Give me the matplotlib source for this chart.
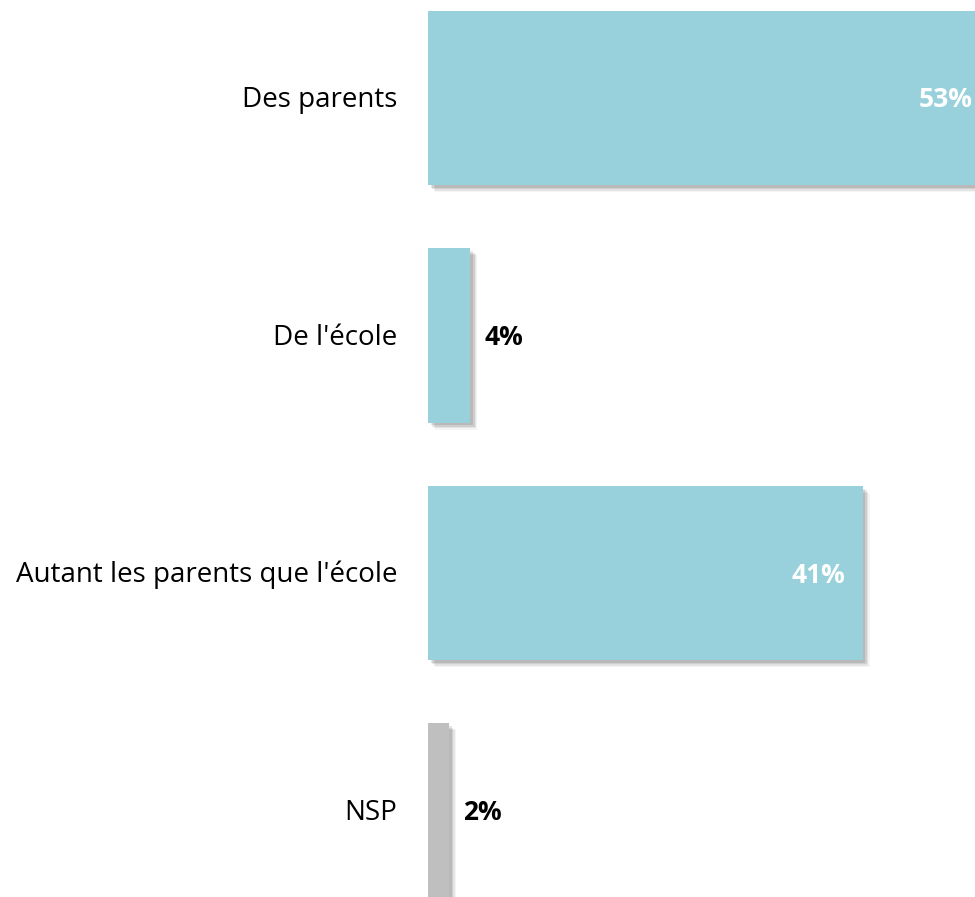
import matplotlib
matplotlib.use("Agg")
import matplotlib.pyplot as plt
from matplotlib import patheffects as pe

categories = ["Des parents", "De l'école", "Autant les parents que l'école", "NSP"]
values = [53, 4, 41, 2]
labels = ["53%", "4%", "41%", "2%"]
colors = ["#98D1DC", "#98D1DC", "#98D1DC", "#BFBFBF"]
inside = [True, False, True, False]

W, H = 975, 897
fig = plt.figure(figsize=(W / 100, H / 100), dpi=100)
ax = fig.add_axes([428 / W, 0, (W - 428) / W, 1])
ax.set_xlim(0, (W - 428) / 10.6)
ax.set_ylim(3.364, -0.4126)
ax.axis("off")

font = "Open Sans"
shadow = [pe.SimplePatchShadow(offset=(2, -2), shadow_rgbFace="#000000", alpha=0.10),
          pe.SimplePatchShadow(offset=(3, -3), shadow_rgbFace="#000000", alpha=0.09),
          pe.SimplePatchShadow(offset=(4, -4), shadow_rgbFace="#000000", alpha=0.07),
          pe.SimplePatchShadow(offset=(5, -5), shadow_rgbFace="#000000", alpha=0.04),
          pe.Normal()]

ypos = list(range(len(categories)))
bars = ax.barh(ypos, values, height=0.733, color=colors, zorder=2)
for b in bars:
    b.set_path_effects(shadow)

for y, v, lab, ins, cat in zip(ypos, values, labels, inside, categories):
    if ins:
        ax.annotate(lab, xy=(v, y), xytext=(-17, -2), textcoords="offset pixels",
                    ha="right", va="center", color="white", fontsize=19,
                    fontweight="bold", family=font, annotation_clip=False, zorder=3)
    else:
        ax.annotate(lab, xy=(v, y), xytext=(14, -2), textcoords="offset pixels",
                    ha="left", va="center", color="black", fontsize=19,
                    fontweight="bold", family=font, annotation_clip=False, zorder=3)
    ax.annotate(cat, xy=(0, y), xytext=(-31, -2), textcoords="offset pixels",
                ha="right", va="center", color="black", fontsize=20,
                family=font, annotation_clip=False)

fig.savefig("out.png", dpi=100)
